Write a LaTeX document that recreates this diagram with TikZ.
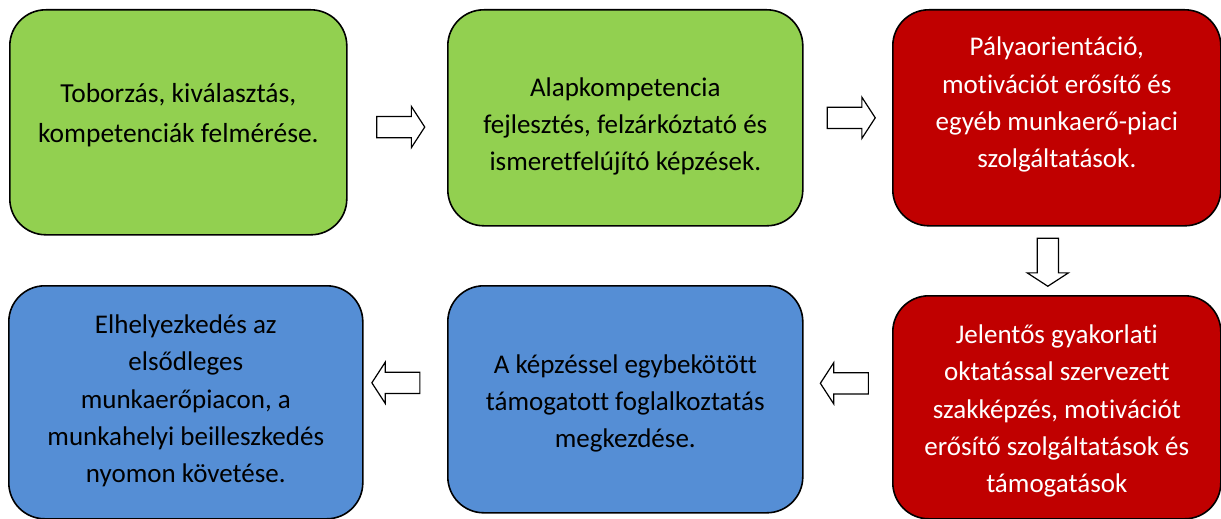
\documentclass[tikz,border=0pt]{standalone}
\usepackage{fontspec}
\setmainfont[Ligatures=NoCommon]{Carlito}
\usetikzlibrary{shapes.arrows,calc}

\definecolor{stepgreen}{HTML}{92D050}
\definecolor{stepred}{HTML}{C00000}
\definecolor{stepblue}{HTML}{558ED5}

\tikzset{
  box/.style={draw=black, line width=1.6pt, rounded corners=36pt, anchor=north west,
    align=center, inner sep=0pt, font=\fontsize{27pt}{37.3pt}\selectfont},
  greenbox/.style={box, fill=stepgreen, text=black},
  redbox/.style={box, fill=stepred, text=white},
  bluebox/.style={box, fill=stepblue, text=black},
  flow/.style={single arrow, draw=black, fill=white, line width=1.2pt,
    minimum height=48pt, minimum width=40pt, single arrow head extend=10pt,
    single arrow tip angle=114, inner sep=10pt},
}

\begin{document}
\begin{tikzpicture}[x=1pt, y=-1pt]

  \useasboundingbox (0,0) rectangle (1221,519);

  % Define nodes
  \node[greenbox, minimum width=337pt, text height=133pt, text depth=92pt,
    font=\fontsize{27.5pt}{40pt}\selectfont] (sa) at (9,9)
    {Toborzás, kiválasztás,\\ kompetenciák felmérése.};
  \node[greenbox, minimum width=355pt, text height=161pt, text depth=55pt] (sb) at (447,9)
    {Alapkompetencia\\ fejlesztés, felzárkóztató és\\ ismeretfelújító képzések.};
  \node[redbox, minimum width=328pt, text height=158pt, text depth=58pt] (sc) at (892,9)
    {Pályaorientáció,\\ motivációt erősítő és\\ egyéb munkaerő-piaci\\ szolgáltatások.};
  \node[redbox, minimum width=328pt, text height=197pt, text depth=26pt] (sd) at (892,295)
    {Jelentős gyakorlati\\ oktatással szervezett\\ szakképzés, motivációt\\ erősítő szolgáltatások és\\ támogatások};
  \node[bluebox, minimum width=355pt, text height=162pt, text depth=65pt] (se) at (447,285)
    {A képzéssel egybekötött\\ támogatott foglalkoztatás\\ megkezdése.};
  \node[bluebox, minimum width=354pt, text height=197pt, text depth=36pt] (sf) at (8,285)
    {Elhelyezkedés az\\ elsődleges\\ munkaerőpiacon, a\\ munkahelyi beilleszkedés\\ nyomon követése.};

  % Connect the nodes
  \node[flow, yshift=-7pt] (fab) at ($(sa.east)!.5!(sb.west)$) {};
  \node[flow] (fbc) at ($(sb.east)!.5!(sc.west)$) {};
  \node[flow, shape border rotate=270, xshift=-9pt, yshift=2pt] (fcd) at ($(sc.south)!.5!(sd.north)$) {};
  \node[flow, shape border rotate=180, yshift=20pt] (fde) at ($(sd.west)!.5!(se.east)$) {};
  \node[flow, shape border rotate=180, xshift=-6pt, yshift=18pt] (fef) at ($(se.west)!.5!(sf.east)$) {};

\end{tikzpicture}
\end{document}
